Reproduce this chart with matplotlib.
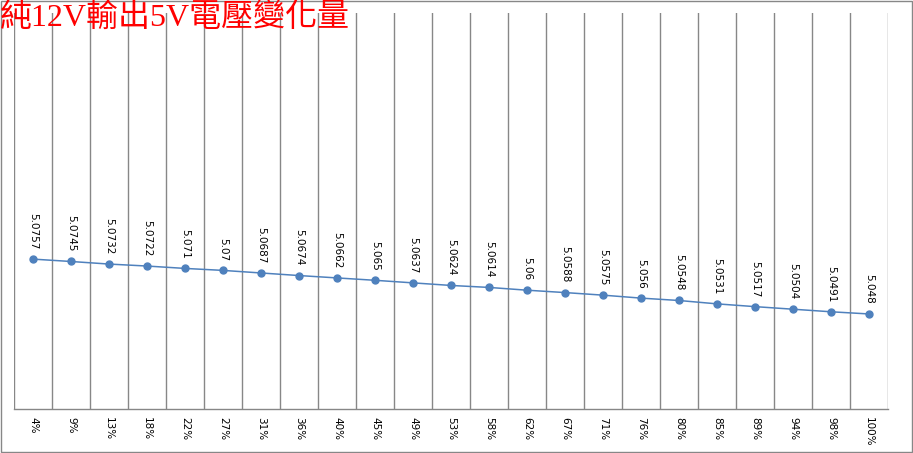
import matplotlib
matplotlib.use("Agg")
import matplotlib.pyplot as plt
from matplotlib.patches import Rectangle
from matplotlib.ticker import FixedLocator

categories = ["4%", "9%", "13%", "18%", "22%", "27%", "31%", "36%", "40%", "45%",
              "49%", "53%", "58%", "62%", "67%", "71%", "76%", "80%", "85%", "89%",
              "94%", "98%", "100%"]
values = [5.0757, 5.0745, 5.0732, 5.0722, 5.071, 5.07, 5.0687, 5.0674, 5.0662, 5.065,
          5.0637, 5.0624, 5.0614, 5.06, 5.0588, 5.0575, 5.056, 5.0548, 5.0531, 5.0517,
          5.0504, 5.0491, 5.048]
value_labels = ["5.0757", "5.0745", "5.0732", "5.0722", "5.071", "5.07", "5.0687", "5.0674",
                "5.0662", "5.065", "5.0637", "5.0624", "5.0614", "5.06", "5.0588", "5.0575",
                "5.056", "5.0548", "5.0531", "5.0517", "5.0504", "5.0491", "5.048"]
title = "純12V輸出5V電壓變化量"

W, H = 913, 453
fig = plt.figure(figsize=(W / 100, H / 100), dpi=100)
fig.patch.set_facecolor("white")

ax = fig.add_axes([14 / W, (H - 409) / H, (888 - 14) / W, (409 - 13) / H])
x = list(range(len(categories)))
ax.plot(x, values, color="#4F81BD", lw=1.1, marker="o", ms=5,
        markerfacecolor="#4F81BD", markeredgecolor="#4F81BD", zorder=3)
ax.set_xlim(-0.5, len(categories) - 0.5)
ax.set_ylim(5.0, 5.2)

ax.set_xticks(x)
ax.set_xticklabels(categories, rotation=-90, fontsize=7.5, color="black",
                   family="DejaVu Sans")
ax.tick_params(axis="x", length=0, pad=6)
ax.xaxis.set_minor_locator(FixedLocator([i - 0.5 for i in range(len(categories) + 1)]))
ax.tick_params(axis="x", which="minor", length=0)
ax.grid(True, axis="x", which="minor", color="#878787", lw=1)
ax.set_yticks([])

for s in ["top", "left", "right"]:
    ax.spines[s].set_visible(False)
ax.spines["bottom"].set_color("#878787")
ax.spines["bottom"].set_linewidth(1)

for xi, v, lab in zip(x, values, value_labels):
    ax.annotate(lab, (xi, v), xytext=(0, 7), textcoords="offset points",
                rotation=-90, ha="center", va="bottom", fontsize=7.5,
                color="black", family="DejaVu Sans")

fig.text(0 / W, 1 - 18 / H, title, color="#FF0000", fontsize=23,
         family=["Liberation Serif", "Noto Sans CJK TC"], ha="left", va="center")

fig.patches.append(Rectangle((1 / W, 1 / H), (W - 2) / W, (H - 2) / H,
                             transform=fig.transFigure, fill=False,
                             edgecolor="#878787", lw=1))

fig.savefig("out.png", dpi=100, facecolor="white")
